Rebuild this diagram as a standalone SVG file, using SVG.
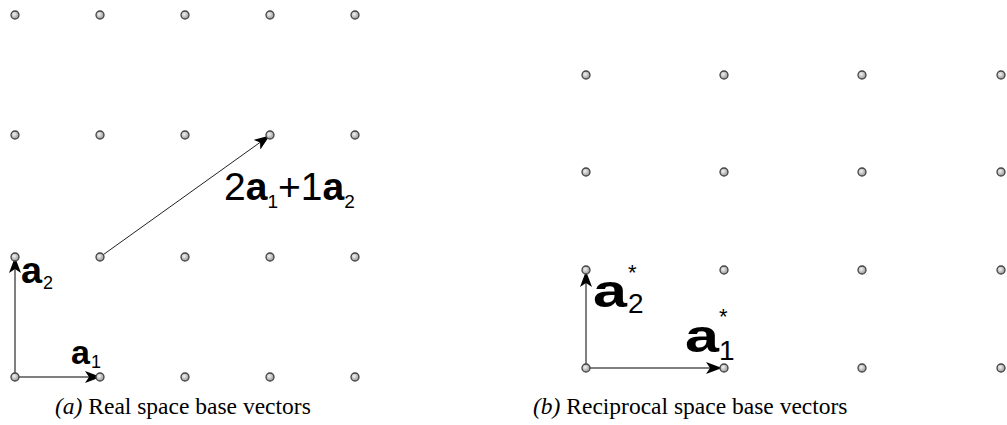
<svg xmlns="http://www.w3.org/2000/svg" width="1007" height="425" viewBox="0 0 1007 425">
<style>
.dot{fill:url(#g);stroke:#444;stroke-width:1.3}
.vec{stroke:#555;stroke-width:1.5;fill:none}
.lbl{font-family:"Liberation Sans",Arial,sans-serif;fill:#000}
.b{font-weight:bold}
.cap{font-family:"Liberation Serif","Times New Roman",serif;font-size:23.5px;fill:#000}
</style>
<defs>
<radialGradient id="g" cx="0.4" cy="0.4" r="0.6"><stop offset="0" stop-color="#f4f4f4"/><stop offset="1" stop-color="#999"/></radialGradient>
<marker id="ah" markerWidth="16" markerHeight="12" refX="15" refY="6" orient="auto" markerUnits="userSpaceOnUse"><path d="M0,0 L16,6 L0,12 L4,6 Z" fill="#000"/></marker>
</defs>
<g id="connectors">
<line class="vec" x1="15" y1="377" x2="100" y2="377" marker-end="url(#ah)"/>
<line class="vec" x1="15" y1="377" x2="15" y2="258" marker-end="url(#ah)"/>
<line x1="100" y1="257" x2="269" y2="136" stroke="#222" stroke-width="1" marker-end="url(#ah)"/>
<line class="vec" x1="586" y1="368" x2="721" y2="368" marker-end="url(#ah)"/>
<line class="vec" x1="586" y1="368" x2="586" y2="272" marker-end="url(#ah)"/>
</g>
<g id="lattice-real">
<circle class="dot" cx="15" cy="15" r="4"/><circle class="dot" cx="100" cy="15" r="4"/><circle class="dot" cx="185" cy="15" r="4"/><circle class="dot" cx="270" cy="15" r="4"/><circle class="dot" cx="355" cy="15" r="4"/>
<circle class="dot" cx="15" cy="135" r="4"/><circle class="dot" cx="100" cy="135" r="4"/><circle class="dot" cx="185" cy="135" r="4"/><circle class="dot" cx="270" cy="135" r="4"/><circle class="dot" cx="355" cy="135" r="4"/>
<circle class="dot" cx="15" cy="257" r="4"/><circle class="dot" cx="100" cy="257" r="4"/><circle class="dot" cx="185" cy="257" r="4"/><circle class="dot" cx="270" cy="257" r="4"/><circle class="dot" cx="355" cy="257" r="4"/>
<circle class="dot" cx="15" cy="377" r="4"/><circle class="dot" cx="100" cy="377" r="4"/><circle class="dot" cx="185" cy="377" r="4"/><circle class="dot" cx="270" cy="377" r="4"/><circle class="dot" cx="355" cy="377" r="4"/>
</g>
<g id="lattice-reciprocal">
<circle class="dot" cx="586" cy="75" r="4"/><circle class="dot" cx="724" cy="75" r="4"/><circle class="dot" cx="862" cy="75" r="4"/><circle class="dot" cx="1001" cy="75" r="4"/>
<circle class="dot" cx="586" cy="172" r="4"/><circle class="dot" cx="724" cy="172" r="4"/><circle class="dot" cx="862" cy="172" r="4"/><circle class="dot" cx="1001" cy="172" r="4"/>
<circle class="dot" cx="586" cy="270" r="4"/><circle class="dot" cx="724" cy="270" r="4"/><circle class="dot" cx="862" cy="270" r="4"/><circle class="dot" cx="1001" cy="270" r="4"/>
<circle class="dot" cx="586" cy="368" r="4"/><circle class="dot" cx="724" cy="368" r="4"/><circle class="dot" cx="862" cy="368" r="4"/><circle class="dot" cx="1001" cy="368" r="4"/>
</g>
<g id="label-a2">
<text class="lbl b" font-size="36" transform="translate(21,283) scale(1.05,1)">a</text>
<text class="lbl" font-size="18" x="43" y="289">2</text>
</g>
<g id="label-a1">
<text class="lbl b" font-size="34" x="71" y="364">a</text>
<text class="lbl" font-size="18" x="91" y="368">1</text>
</g>
<g id="label-sum">
<text class="lbl" x="224" y="200" font-size="39">2<tspan class="b">a</tspan><tspan font-size="19" dy="8">1</tspan><tspan dy="-8">+1</tspan><tspan class="b">a</tspan><tspan font-size="19" dy="8">2</tspan></text>
</g>
<g id="label-a2s">
<text class="lbl b" font-size="47" transform="translate(593,307) scale(1.3,1)">a</text>
<text class="lbl" x="628" y="280" font-size="22">*</text>
<text class="lbl" x="628" y="313" font-size="28">2</text>
</g>
<g id="label-a1s">
<text class="lbl b" font-size="47" transform="translate(685,352) scale(1.3,1)">a</text>
<text class="lbl" x="719" y="324" font-size="22">*</text>
<text class="lbl" x="719" y="360" font-size="28">1</text>
</g>
<g id="captions">
<text class="cap" x="55" y="414"><tspan font-style="italic">(a)</tspan> Real space base vectors</text>
<text class="cap" x="533" y="414"><tspan font-style="italic">(b)</tspan> Reciprocal space base vectors</text>
</g>
</svg>
